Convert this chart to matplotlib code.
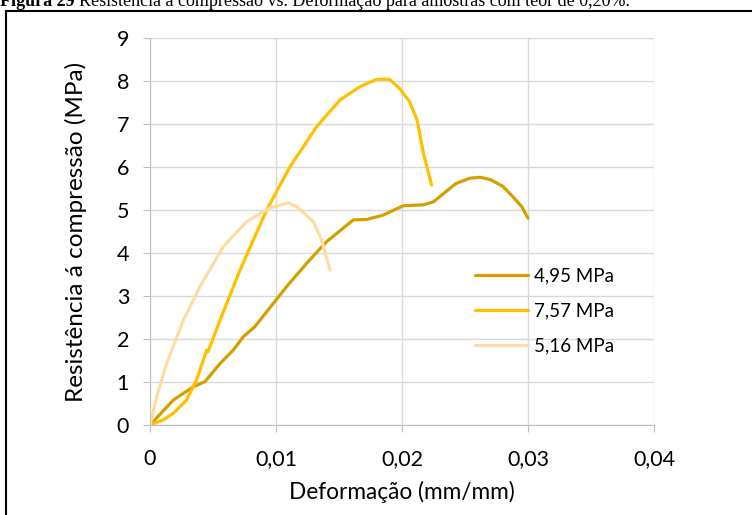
import numpy as np
import matplotlib.pyplot as plt
from matplotlib.patches import Rectangle

# curves (deformation mm/mm, stress MPa)
def_495 = [0, 0.00185, 0.00344, 0.00437, 0.00556, 0.0066, 0.0074, 0.00833, 0.01085, 0.01243,
           0.0140, 0.01614, 0.0172, 0.0185, 0.0201, 0.0217, 0.0225, 0.0232, 0.0243, 0.0254,
           0.0262, 0.0270, 0.0280, 0.0288, 0.0295, 0.0300]
res_495 = [0, 0.58, 0.89, 1.01, 1.43, 1.74, 2.05, 2.29, 3.22, 3.76,
           4.26, 4.77, 4.78, 4.88, 5.10, 5.12, 5.19, 5.36, 5.62, 5.74,
           5.76, 5.71, 5.55, 5.31, 5.08, 4.81]

def_757 = [0, 0.00106, 0.00185, 0.0029, 0.0037, 0.0045, 0.0046, 0.00556, 0.00714, 0.00926,
           0.0111, 0.01323, 0.01508, 0.01667, 0.0180, 0.0190, 0.0198, 0.0206, 0.0212, 0.0217,
           0.02235]
res_757 = [0, 0.12, 0.27, 0.58, 1.05, 1.74, 1.70, 2.44, 3.60, 5.0,
           6.0, 6.94, 7.56, 7.87, 8.04, 8.04, 7.83, 7.52, 7.09, 6.32,
           5.58]

def_516 = [0, 0.00053, 0.00132, 0.00265, 0.00397, 0.00582, 0.00767, 0.00952, 0.01098, 0.01164,
           0.01296, 0.01362, 0.01429]
res_516 = [0, 0.66, 1.43, 2.44, 3.22, 4.15, 4.73, 5.05, 5.17, 5.08,
           4.73, 4.30, 3.60]

labels = ["4,95 MPa", "7,57 MPa", "5,16 MPa"]
colors = ["#D4A000", "#FFC000", "#FFDCA3"]

x_ticks = [0, 0.01, 0.02, 0.03, 0.04]
x_ticklabels = ["0", "0,01", "0,02", "0,03", "0,04"]
y_ticks = list(range(10))

plt.rcParams['font.family'] = ['Lato', 'DejaVu Sans']

fig = plt.figure(figsize=(7.52, 5.15), dpi=100)
ax = fig.add_axes([150/752, 90/515, 504/752, 387/515])

ax.plot(def_495, res_495, color=colors[0], lw=2.3, label=labels[0], solid_capstyle='round')
ax.plot(def_757, res_757, color=colors[1], lw=2.3, label=labels[1], solid_capstyle='round')
ax.plot(def_516, res_516, color=colors[2], lw=2.3, label=labels[2], solid_capstyle='round')

ax.set_xlim(0, 0.04)
ax.set_ylim(0, 9)
ax.set_xticks(x_ticks)
ax.set_xticklabels(x_ticklabels)
ax.set_yticks(y_ticks)
ax.grid(True, color="#D9D9D9", lw=1)
ax.set_axisbelow(True)
for s in ["top", "right"]:
    ax.spines[s].set_visible(False)
for s in ["left", "bottom"]:
    ax.spines[s].set_color("#BFBFBF")
ax.tick_params(axis="both", colors="#BFBFBF", length=5, labelcolor="black", labelsize=15.5)
ax.tick_params(axis="x", pad=12)
ax.tick_params(axis="y", pad=10)

ax.set_xlabel("Deformação (mm/mm)", fontsize=16.3, labelpad=9)
ax.set_ylabel("Resistência á compressão (MPa)", fontsize=17.5, labelpad=21)

ax.legend(loc="center left", bbox_to_anchor=((475 - 150) / 504, (425 - 311) / 387),
          frameon=False, fontsize=13.5, borderpad=0, borderaxespad=0,
          handlelength=2.85, handletextpad=0.3, labelspacing=0.95)

# border of the figure box
fig.patches.append(Rectangle((6/752, -0.05), 1.2, 1 - 11/515 + 0.05, transform=fig.transFigure,
                             fill=False, edgecolor="black", lw=1.5))

# caption, clipped at the top edge like in the source page
t1 = fig.text(0.0, 1 - 6/515, "Figura 29", fontfamily="Liberation Serif", fontweight="bold",
              fontsize=13, va="baseline", ha="left")
fig.canvas.draw()
bb = t1.get_window_extent(fig.canvas.get_renderer())
fig.text((bb.x1 + 4) / 752, 1 - 6/515,
         "Resistência à compressão vs. Deformação para amostras com teor de 0,20%.",
         fontfamily="Liberation Serif", fontsize=13, va="baseline", ha="left")

plt.savefig("out.png", dpi=100)
